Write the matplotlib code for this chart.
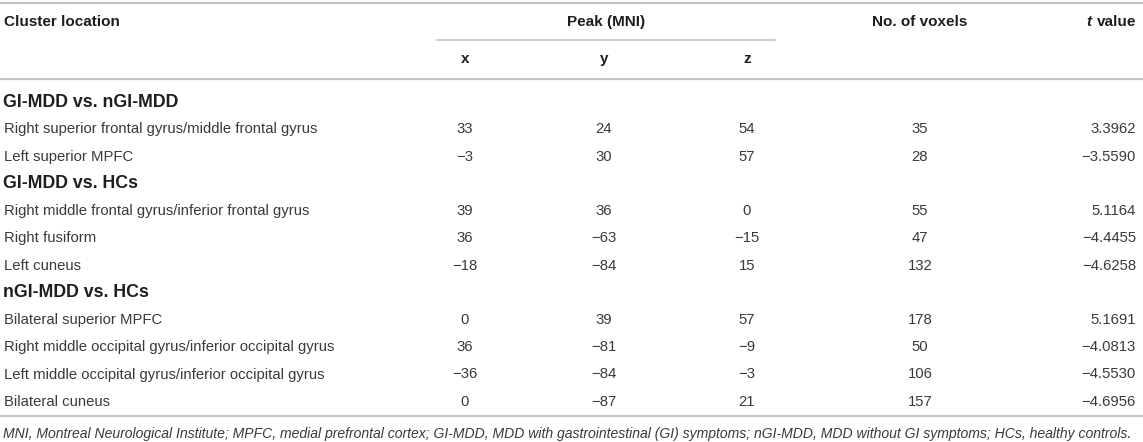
import matplotlib
matplotlib.use("Agg")
import matplotlib.pyplot as plt
from matplotlib.lines import Line2D

plt.rcParams['font.family'] = ['Liberation Sans', 'DejaVu Sans']

W, H = 1143, 442

sections = ["GI-MDD vs. nGI-MDD", "GI-MDD vs. HCs", "nGI-MDD vs. HCs"]
section_rows = [
    ["Right superior frontal gyrus/middle frontal gyrus", "Left superior MPFC"],
    ["Right middle frontal gyrus/inferior frontal gyrus", "Right fusiform", "Left cuneus"],
    ["Bilateral superior MPFC", "Right middle occipital gyrus/inferior occipital gyrus",
     "Left middle occipital gyrus/inferior occipital gyrus", "Bilateral cuneus"],
]
peak_x = [33, -3, 39, 36, -18, 0, 36, -36, 0]
peak_y = [24, 30, 36, -63, -84, 39, -81, -84, -87]
peak_z = [54, 57, 0, -15, 15, 57, -9, -3, 21]
voxels = [35, 28, 55, 47, 132, 178, 50, 106, 157]
t_values = ["3.3962", "−3.5590", "5.1164", "−4.4455", "−4.6258",
            "5.1691", "−4.0813", "−4.5530", "−4.6956"]
footnote = ("MNI, Montreal Neurological Institute; MPFC, medial prefrontal cortex; "
            "GI-MDD, MDD with gastrointestinal (GI) symptoms; nGI-MDD, MDD without GI symptoms; "
            "HCs, healthy controls.")

def fmt(v):
    return str(v).replace("-", "−")

fig = plt.figure(figsize=(W / 100, H / 100), dpi=100)
fig.patch.set_facecolor("white")

def fx(x):
    return x / W

def fy(y):
    return 1 - y / H

def hline(x0, x1, y, lw=1.6, color="#c4c4c4"):
    fig.add_artist(Line2D([fx(x0), fx(x1)], [fy(y), fy(y)], color=color, lw=lw))

BODY = "#3a3a3a"
HEAD = "#1e1e1e"
fs = 10.7
hfs = 11.0
sfs = 12.8

def txt(x, y, s, ha="left", bold=False, color=BODY, style="normal", size=fs):
    fig.text(fx(x), fy(y), s, ha=ha, va="center", fontsize=size,
             fontweight="bold" if bold else "normal", color=color, fontstyle=style)

# rules
hline(0, W, 3)
hline(437, 775, 40, lw=1.2)
hline(0, W, 79)
hline(0, W, 416)

xc, yc, zc, vc, tc = 465, 604, 747, 920, 1136

# header
txt(4, 22, "Cluster location", bold=True, color=HEAD, size=hfs)
txt(606, 22, "Peak (MNI)", ha="center", bold=True, color=HEAD, size=hfs)
txt(vc, 22, "No. of voxels", ha="center", bold=True, color=HEAD, size=hfs)
txt(1086, 22, "t", bold=True, style="italic", color=HEAD, size=hfs)
txt(tc, 22, "value", ha="right", bold=True, color=HEAD, size=hfs)
txt(xc, 59, "x", ha="center", bold=True, color=HEAD, size=hfs)
txt(yc, 59, "y", ha="center", bold=True, color=HEAD, size=hfs)
txt(zc, 59, "z", ha="center", bold=True, color=HEAD, size=hfs)

ypos = 102
step = 27.25
i = 0
for sec, rows in zip(sections, section_rows):
    txt(3, ypos, sec, bold=True, color=HEAD, size=sfs)
    ypos += step
    for r in rows:
        txt(4, ypos, r)
        txt(xc, ypos, fmt(peak_x[i]), ha="center")
        txt(yc, ypos, fmt(peak_y[i]), ha="center")
        txt(zc, ypos, fmt(peak_z[i]), ha="center")
        txt(vc, ypos, fmt(voxels[i]), ha="center")
        txt(tc, ypos, t_values[i], ha="right")
        ypos += step
        i += 1

txt(3, 434, footnote, style="italic", size=10.1)

fig.savefig("out.png", dpi=100, facecolor="white")
